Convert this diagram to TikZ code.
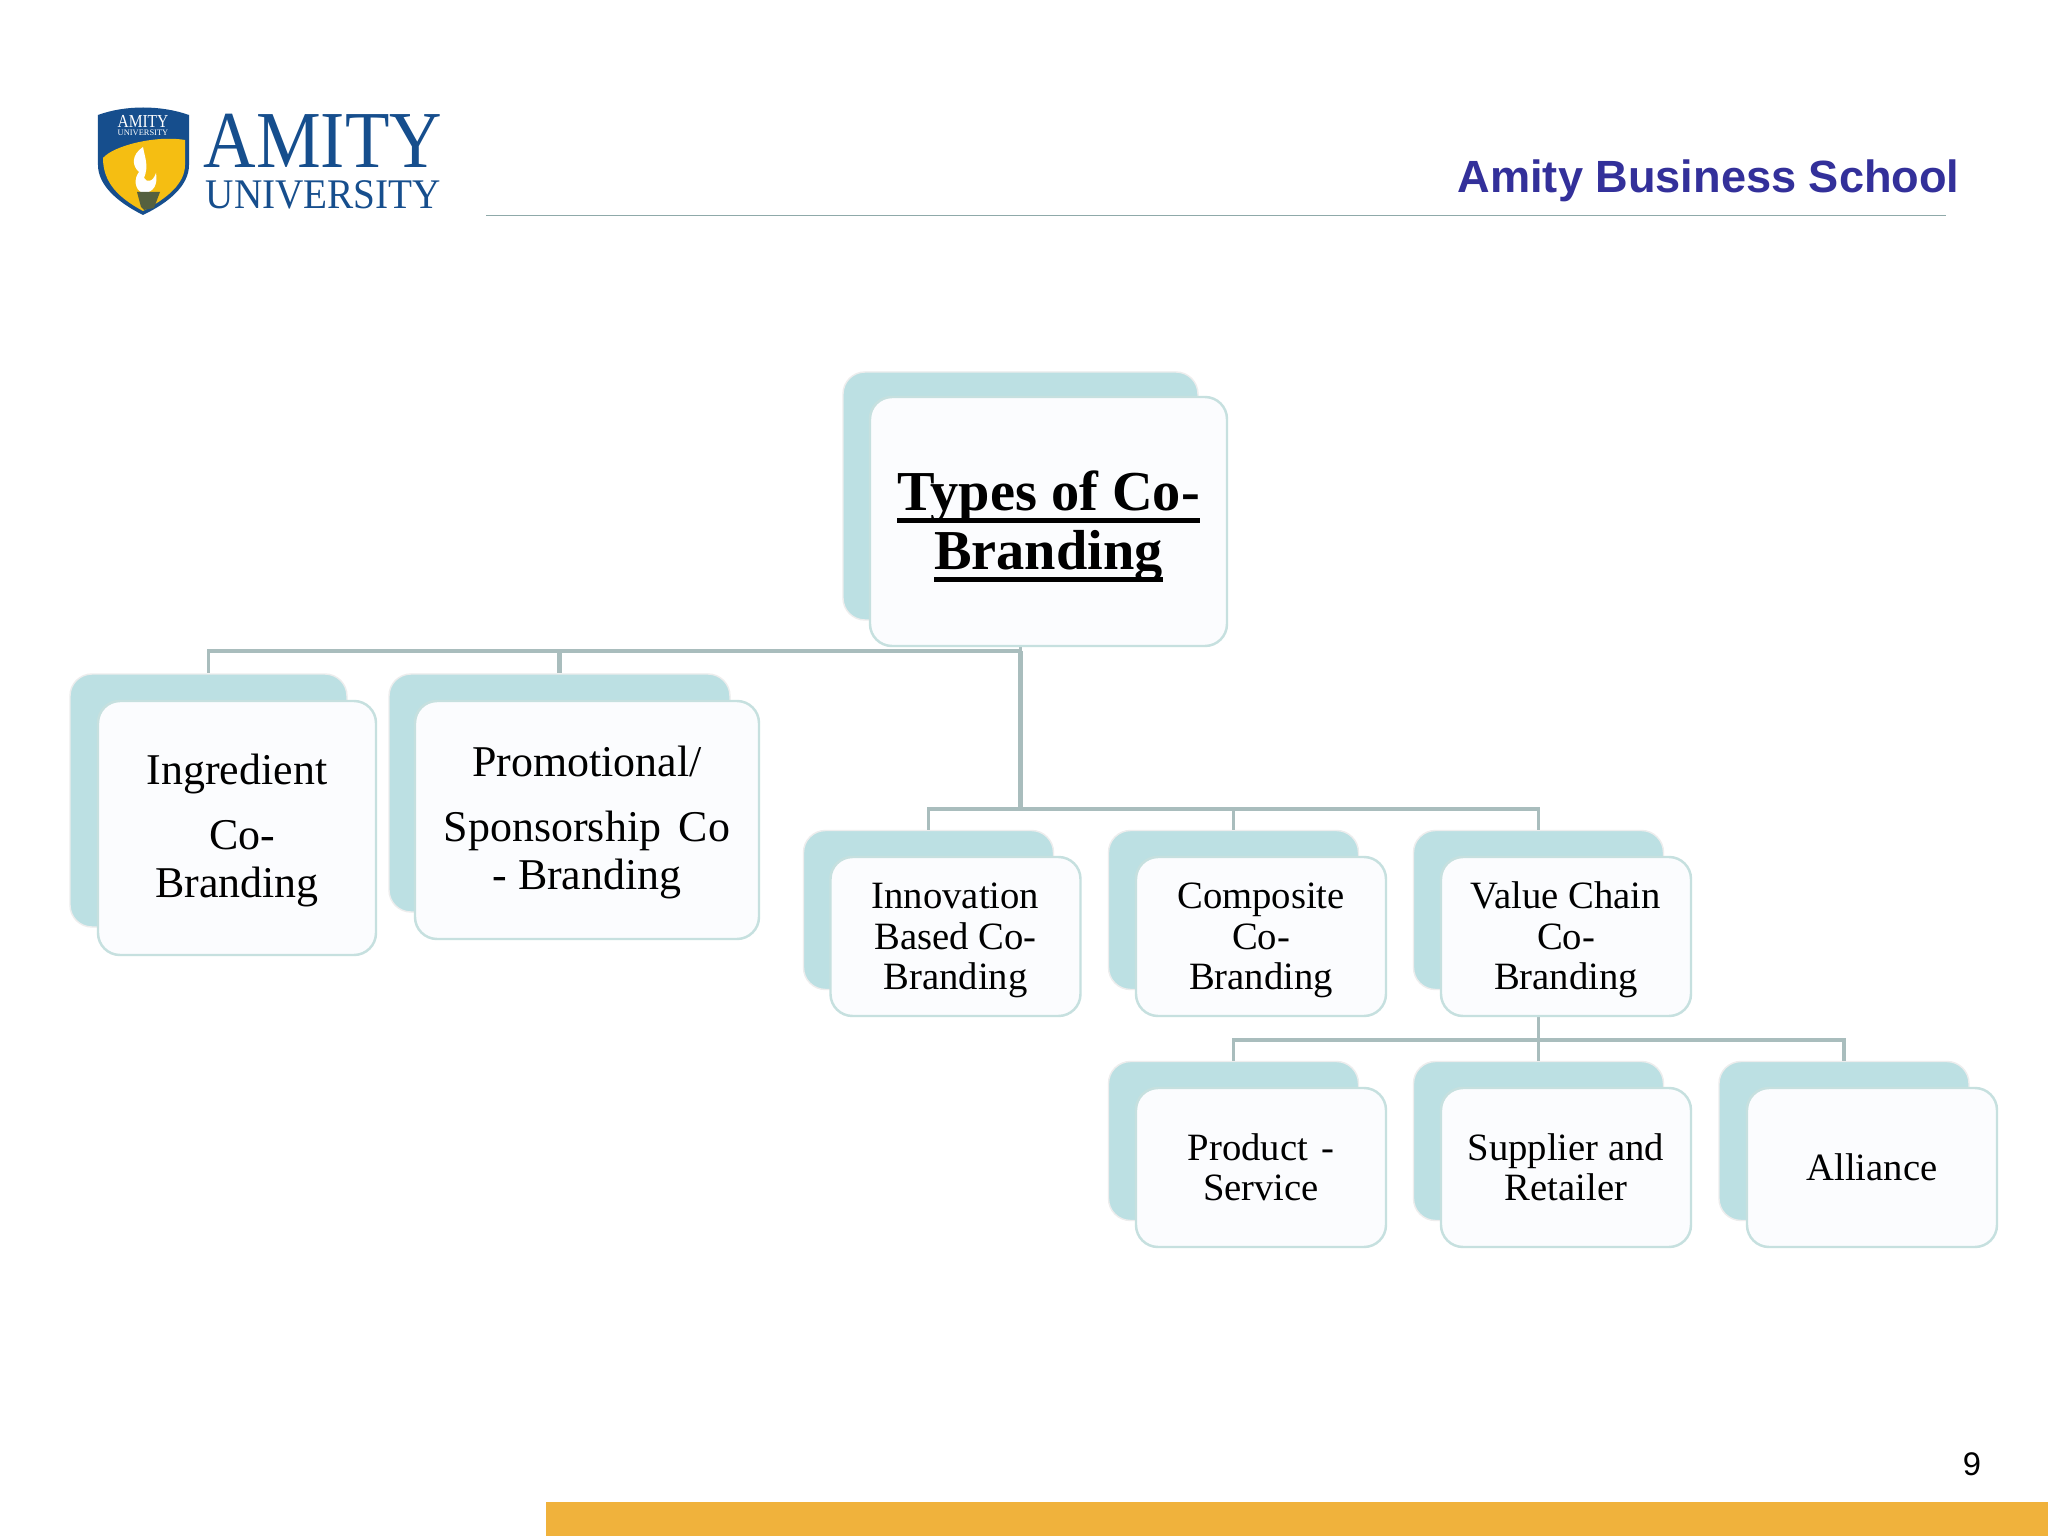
\documentclass[tikz,border=0pt]{standalone}
\usepackage{fontspec}
\usepackage{graphicx}
\setmainfont{Liberation Serif}
\newfontfamily\headfont{Liberation Sans}
\definecolor{backfill}{HTML}{BCE0E3}
\definecolor{backedge}{HTML}{EDEDED}
\definecolor{frontfill}{HTML}{FBFCFE}
\definecolor{frontedge}{HTML}{C6E0DF}
\definecolor{linkcol}{HTML}{A9BDBD}
\definecolor{rulecol}{HTML}{8FA9A9}
\definecolor{amityblue}{HTML}{164E8D}
\definecolor{schoolblue}{HTML}{33309A}
\definecolor{barcol}{HTML}{F0B23C}
\definecolor{shieldyellow}{HTML}{F5BE12}
\definecolor{torchcol}{HTML}{55603F}
\newcommand{\ruled}[1]{\setbox0\hbox{#1}\rlap{\rule[-3.6pt]{\wd0}{1.5pt}}\box0}
\newcommand{\topgap}[1]{\rule{0pt}{#1}}

\begin{document}
\begin{tikzpicture}[
    backbox/.style ={rectangle, draw=backedge, fill=backfill, rounded corners=0.22cm, inner sep=0pt},
    frontbox/.style ={rectangle, draw=frontedge, line width=0.7pt, fill=frontfill, rounded corners=0.22cm, inner sep=0pt, align=center},
    small/.style ={minimum width=2.5cm, minimum height=1.59cm, font=\fontsize{11}{11.5}\selectfont},
    smallback/.style ={minimum width=2.5cm, minimum height=1.59cm},
    large/.style ={font=\fontsize{12.5}{13.4}\selectfont},
    link/.style ={draw=linkcol, line width=1pt}]
   \useasboundingbox (0,0) rectangle (20.48,-15.36);

   % header
   \fill[white] (0,0) rectangle (20.48,-15.36);
   \node[anchor=base east, text=schoolblue, font=\headfont\bfseries\fontsize{12.85}{14}\selectfont] (School) at (19.72,-1.93) {Amity Business School};
   \coordinate (RuleL) at (4.86,-2.155);
   \coordinate (RuleR) at (19.46,-2.155);
   \draw[draw=rulecol, line width=0.4pt] (RuleL) -- (RuleR);

   % logo
   \fill[amityblue] (0.98,-1.15) .. controls (1.25,-1.05) and (1.61,-1.05) .. (1.89,-1.15)
      -- (1.89,-1.65) .. controls (1.89,-1.85) and (1.70,-2.02) .. (1.43,-2.15)
      .. controls (1.17,-2.02) and (0.98,-1.85) .. (0.98,-1.65) -- cycle;
   \fill[shieldyellow] (1.03,-1.58) .. controls (1.13,-1.46) and (1.55,-1.35) .. (1.85,-1.40)
      -- (1.85,-1.65) .. controls (1.85,-1.83) and (1.68,-1.98) .. (1.43,-2.11)
      .. controls (1.19,-1.98) and (1.03,-1.83) .. (1.03,-1.58) -- cycle;
   \fill[white] (1.43,-1.47) .. controls (1.31,-1.55) and (1.32,-1.66) .. (1.39,-1.72)
      .. controls (1.34,-1.78) and (1.34,-1.90) .. (1.43,-1.93)
      .. controls (1.54,-1.93) and (1.58,-1.84) .. (1.56,-1.73)
      .. controls (1.53,-1.82) and (1.47,-1.83) .. (1.44,-1.78)
      .. controls (1.49,-1.66) and (1.45,-1.58) .. (1.43,-1.47) -- cycle;
   \fill[torchcol] (1.37,-1.92) -- (1.60,-1.92) -- (1.54,-2.08) -- (1.44,-2.10) -- (1.41,-2.07) -- cycle;
   \node[inner sep=0pt, text=white, font=\fontsize{5.2}{6}\selectfont] (ShieldA) at (1.43,-1.21) {\scalebox{0.85}[1]{AMITY}};
   \node[inner sep=0pt, text=white, font=\fontsize{2.4}{3}\selectfont] (ShieldU) at (1.43,-1.33) {UNIVERSITY};
   \node[anchor=base west, inner sep=0pt, text=amityblue, font=\fontsize{23}{24}\selectfont] (Amity) at (2.03,-1.68) {\scalebox{0.9}[1]{AMITY}};
   \node[anchor=base west, inner sep=0pt, text=amityblue, font=\fontsize{12}{13}\selectfont] (Univ) at (2.05,-2.09) {\scalebox{0.93}[1]{UNIVERSITY}};

   % back boxes
   \node[backbox, minimum width=3.55cm, minimum height=2.48cm] (RootB) at (10.205,-4.96) {};
   \node[backbox, minimum width=2.77cm, minimum height=2.53cm] (IngB) at (2.085,-8.005) {};
   \node[backbox, minimum width=3.41cm, minimum height=2.38cm] (ProB) at (5.595,-7.93) {};
   \node[backbox, smallback] (InnB) at (9.285,-9.10) {};
   \node[backbox, smallback] (ComB) at (12.335,-9.10) {};
   \node[backbox, smallback] (ValB) at (15.385,-9.10) {};
   \node[backbox, smallback] (ProdB) at (12.335,-11.41) {};
   \node[backbox, smallback] (SupB) at (15.385,-11.41) {};
   \node[backbox, smallback] (AllB) at (18.44,-11.41) {};

   % connectors
   \coordinate (J1) at (10.205,-6.51);
   \coordinate (J2) at (10.205,-8.09);
   \coordinate (J3) at (15.385,-10.40);
   \draw[link] (RootB.south) -- (J1);
   \draw[link] (J1) -| (IngB.north);
   \draw[link, line width=1.3pt] (J1) -| (ProB.north);
   \draw[link, line width=1.3pt] (J1) -- (J2);
   \draw[link] (J2) -| (InnB.north);
   \draw[link] (J2) -| (ComB.north);
   \draw[link] (J2) -| (ValB.north);
   \draw[link] (ValB.south) -- (J3);
   \draw[link] (J3) -| (ProdB.north);
   \draw[link] (J3) -- (SupB.north);
   \draw[link] (J3) -| (AllB.north);

   % front boxes
   \node[frontbox, minimum width=3.57cm, minimum height=2.49cm, font=\bfseries\fontsize{16.04}{16.7}\selectfont] (Root) at (10.485,-5.215) {\topgap{14pt}\ruled{Types of Co-}\\\ruled{Branding}};
   \node[frontbox, large, minimum width=2.78cm, minimum height=2.54cm] (Ing) at (2.37,-8.28) {\topgap{10pt}Ingredient\\[5.2pt]\hspace*{3pt}Co-\\Branding};
   \node[frontbox, large, minimum width=3.44cm, minimum height=2.38cm] (Pro) at (5.87,-8.20) {\topgap{10pt}Promotional/\\[5.2pt]Sponsorship\hspace{0.4em}Co\\- Branding};
   \node[frontbox, small] (Inn) at (9.555,-9.365) {\topgap{9.7pt}Innovation\\Based Co-\\Branding};
   \node[frontbox, small] (Com) at (12.61,-9.365) {\topgap{9.7pt}Composite\\Co-\\Branding};
   \node[frontbox, small] (Val) at (15.66,-9.365) {\topgap{9.7pt}Value Chain\\Co-\\Branding};
   \node[frontbox, small] (Prod) at (12.61,-11.675) {Product\hspace{0.35em}-\\Service};
   \node[frontbox, small] (Sup) at (15.66,-11.675) {Supplier and\\Retailer};
   \node[frontbox, small] (All) at (18.72,-11.675) {Alliance};

   % footer
   \fill[barcol] (5.46,-15.02) rectangle (20.48,-15.36);
   \node[font=\headfont\fontsize{9.3}{12}\selectfont] (Page) at (19.72,-14.64) {9};
\end{tikzpicture}
\end{document}
